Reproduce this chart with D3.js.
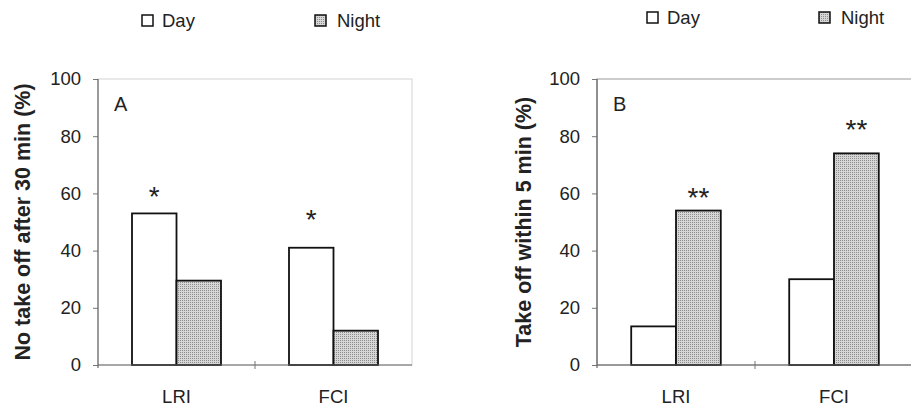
<!DOCTYPE html>
<html>
<head>
<meta charset="utf-8">
<script src="https://cdn.jsdelivr.net/npm/d3@7"></script>
<style>
  body { margin: 0; background: #fff; }
  svg { display: block; font-family: "Liberation Sans", Arial, sans-serif; }
</style>
</head>
<body>
<svg id="chart" width="911" height="410"></svg>
<script>
// data
var categories = ["LRI", "FCI"];
var seriesNames = ["Day", "Night"];
var yTicks = [0, 20, 40, 60, 80, 100];

// panel A: no take off after 30 min (%)
var noTakeoffDay = [53, 41];
var noTakeoffNight = [29.5, 12];
var noTakeoffSig = ["*", "*"];
var noTakeoffSigLevel = [61, 53];

// panel B: take off within 5 min (%)
var takeoffDay = [13.5, 30];
var takeoffNight = [54, 74];
var takeoffSig = ["**", "**"];
var takeoffSigLevel = [60.5, 84.5];

var svg = d3.select("#chart");

// stippled fill for the night bars
var defs = svg.append("defs");
var pat = defs.append("pattern")
    .attr("id", "stipple")
    .attr("width", 2).attr("height", 2)
    .attr("patternUnits", "userSpaceOnUse");
pat.append("rect").attr("width", 2).attr("height", 2).attr("fill", "#d6d6d6");
pat.append("rect").attr("width", 1).attr("height", 1).attr("fill", "#8e8e8e");

var panels = [
  { letter: "A", left: 98, right: 412, top: 79, bottom: 365,
    title: "No take off after 30 min (%)", titleX: 30,
    day: noTakeoffDay, night: noTakeoffNight,
    sig: noTakeoffSig, sigLevel: noTakeoffSigLevel, sigOver: "Day",
    frame: "#d4d4d4", legendX: [142, 315], legendY: 15 },
  { letter: "B", left: 597, right: 913, top: 79, bottom: 365,
    title: "Take off within 5 min (%)", titleX: 531,
    day: takeoffDay, night: takeoffNight,
    sig: takeoffSig, sigLevel: takeoffSigLevel, sigOver: "Night",
    frame: "#9a9a9a", legendX: [647, 819], legendY: 12 }
];

panels.forEach(function(p) {
  var g = svg.append("g");

  var y = d3.scaleLinear().domain([0, 100]).range([p.bottom, p.top]);
  var x = d3.scaleBand().domain(categories).range([p.left, p.right]);
  var xs = d3.scaleBand().domain(seriesNames)
      .range([0, x.bandwidth()])
      .paddingInner(0).paddingOuter(0.764);

  // plot frame
  g.append("rect")
      .attr("x", p.left).attr("y", y(100))
      .attr("width", p.right - p.left).attr("height", y(0) - y(100))
      .attr("fill", "none").attr("stroke", p.frame).attr("stroke-width", 1);

  // bars
  var rows = categories.map(function(c, i) {
    return [{ cat: c, s: "Day", v: p.day[i] }, { cat: c, s: "Night", v: p.night[i] }];
  });
  g.selectAll(".bar")
    .data(d3.merge(rows))
    .enter().append("rect")
      .attr("class", "bar")
      .attr("x", function(d) { return x(d.cat) + xs(d.s); })
      .attr("y", function(d) { return y(d.v); })
      .attr("width", xs.bandwidth())
      .attr("height", function(d) { return y(0) - y(d.v); })
      .attr("fill", function(d) { return d.s == "Day" ? "#fff" : "url(#stipple)"; })
      .attr("stroke", "#111")
      .attr("stroke-width", 1.8);

  // significance marks
  g.selectAll(".sig")
    .data(categories)
    .enter().append("text")
      .attr("class", "sig")
      .attr("x", function(d) { return x(d) + xs(p.sigOver) + xs.bandwidth() / 2; })
      .attr("y", function(d, i) { return y(p.sigLevel[i]); })
      .attr("dy", "0.55em")
      .attr("text-anchor", "middle")
      .attr("font-size", 28)
      .attr("fill", "#222")
      .text(function(d, i) { return p.sig[i]; });

  // y axis
  var yAxis = g.append("g")
      .attr("transform", "translate(" + p.left + ",0)")
      .call(d3.axisLeft(y).tickValues(yTicks).tickSize(5).tickPadding(12));
  yAxis.select(".domain").remove();
  yAxis.selectAll("line").attr("stroke", "#777");
  yAxis.selectAll("text").attr("font-size", 18.5).attr("fill", "#222")
      .attr("font-family", "Liberation Sans, Arial, sans-serif");
  g.append("line")
      .attr("x1", p.left).attr("x2", p.left)
      .attr("y1", y(100)).attr("y2", y(0) + 3)
      .attr("stroke", "#666").attr("stroke-width", 1.2);

  // x axis
  var xAxis = g.append("g")
      .attr("transform", "translate(0," + p.bottom + ")")
      .call(d3.axisBottom(x).tickSize(0).tickPadding(25));
  xAxis.select(".domain").remove();
  xAxis.selectAll("text").attr("font-size", 18.5).attr("fill", "#222")
      .attr("font-family", "Liberation Sans, Arial, sans-serif");
  g.append("line")
      .attr("x1", p.left).attr("x2", p.right)
      .attr("y1", y(0)).attr("y2", y(0))
      .attr("stroke", "#666").attr("stroke-width", 1.2);
  g.selectAll(".xtick")
    .data(categories.slice(1))
    .enter().append("line")
      .attr("class", "xtick")
      .attr("x1", function(d) { return x(d); })
      .attr("x2", function(d) { return x(d); })
      .attr("y1", y(0) - 4).attr("y2", y(0) + 4)
      .attr("stroke", "#777");

  // axis title
  g.append("text")
      .attr("transform", "translate(" + p.titleX + "," + ((y(0) + y(100)) / 2) + ") rotate(-90)")
      .attr("text-anchor", "middle")
      .attr("font-size", 21.5)
      .attr("font-weight", "bold")
      .attr("fill", "#222")
      .text(p.title);

  // panel letter
  g.append("text")
      .attr("x", p.left + 16).attr("y", y(100) + 32)
      .attr("font-size", 20)
      .attr("fill", "#222")
      .text(p.letter);

  // legend
  var leg = g.selectAll(".leg")
    .data(seriesNames)
    .enter().append("g")
      .attr("class", "leg")
      .attr("transform", function(d, i) { return "translate(" + p.legendX[i] + "," + p.legendY + ")"; });
  leg.append("rect")
      .attr("width", 11).attr("height", 11)
      .attr("fill", function(d) { return d == "Day" ? "#fff" : "url(#stipple)"; })
      .attr("stroke", "#111").attr("stroke-width", 1.5);
  leg.append("text")
      .attr("x", function(d) { return d == "Day" ? 20 : 22; })
      .attr("y", 12)
      .attr("font-size", 18.5)
      .attr("fill", "#222")
      .text(function(d) { return d; });
});
</script>
</body>
</html>
